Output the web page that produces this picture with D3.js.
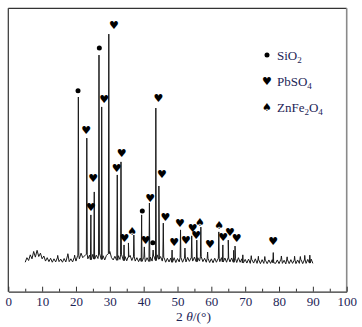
<!DOCTYPE html>
<html>
<head>
<meta charset="utf-8">
<script src="https://cdn.jsdelivr.net/npm/d3@7"></script>
<style>
  body { margin: 0; background: #fff; }
  svg { display: block; }
</style>
</head>
<body>
<div id="container"></div>
<script>
// background of the scan, 5..90 deg every 0.5 deg
const bgStart = 5;
const bgStep = 0.5;
const bgValues = [
  10.4, 12.0, 11.0, 13.0, 11.6, 14.2, 12.2, 14.6, 12.4, 13.6, 11.6,
  12.6, 10.8, 12.0, 10.6, 11.8, 10.4, 11.6, 10.5, 11.9, 10.6,
  11.5, 10.4, 11.7, 10.5, 12.6, 10.6, 11.6, 10.5, 12.0, 10.8,
  12.8, 11.6, 13.6, 12.0, 12.6, 13.2, 11.6, 12.9, 11.3, 13.2,
  11.5, 12.9, 11.7, 13.3, 11.4, 12.7, 11.2, 12.8, 13.4, 14.2,
  12.0, 11.2, 12.5, 11.1, 12.7, 11.4, 13.0, 11.0, 12.4, 10.9,
  12.2, 12.8, 11.0, 12.3, 10.8, 12.0, 10.6, 11.9, 10.7, 12.1,
  10.6, 12.0, 10.7, 12.2, 10.8, 12.6, 11.0, 13.0, 11.5, 12.4,
  10.8, 12.1, 10.4, 11.8, 10.5, 11.9, 10.4, 12.0, 10.3, 11.7,
  10.5, 12.0, 10.4, 11.8, 10.5, 12.1, 10.7, 11.9, 10.8, 12.2,
  10.6, 12.0, 10.8, 12.3, 10.6, 11.8, 10.4, 11.7, 10.3, 11.6,
  10.2, 11.8, 10.4, 11.7, 10.6, 12.0, 10.5, 11.9, 10.4, 11.8,
  10.5, 11.9, 10.4, 11.7, 10.3, 12.0, 10.4, 11.6, 10.2, 11.4,
  10.1, 11.5, 10.0, 11.3, 10.1, 11.6, 10.0, 11.2, 9.9, 11.3,
  10.0, 11.1, 9.9, 11.2, 10.0, 11.3, 10.2, 10.0, 11.2, 9.9,
  11.3, 10.0, 11.1, 9.8, 11.2, 9.9, 11.3, 10.0, 11.1, 9.9,
  11.2, 10.0, 11.3, 9.9, 11.2, 10.0, 11.4, 10.1, 11.5, 10.0
];

// diffraction peaks: 2theta and intensity
const peakAngles = [
  20.7, 23.2, 24.4, 25.4, 26.8, 27.6, 29.7, 32.2, 33.3, 34.2,
  35.5, 37.1, 39.4, 40.2, 41.7, 42.8, 43.6, 44.5, 45.8, 48.4,
  50.9, 52.2, 54.2, 55.7, 56.9, 58.9, 62.2, 63.4, 65.0, 67.0,
  78.3,
  14.6, 17.6, 19.6, 66.6, 69.3, 71.8, 73.9, 75.8, 80.7, 82.4,
  84.6, 86.3, 87.6, 89.1
];
const peakHeights = [
  68.7, 54.2, 27.1, 35.2, 83.5, 65.2, 90.9, 41.2, 45.8, 16.5,
  17.2, 20.0, 27.1, 15.8, 31.3, 14.7, 64.8, 37.3, 24.2, 14.7,
  21.8, 15.4, 19.7, 18.2, 22.8, 14.0, 21.1, 16.5, 18.2, 16.1,
  13.8,
  12.8, 13.4, 12.9, 14.6, 13.0, 12.7, 12.5, 12.4, 12.6, 12.3,
  12.5, 12.4, 12.8, 12.9
];

// phase markers [2theta, height]
const sio2Marks = [[20.6, 70.9], [26.9, 86.0], [39.6, 28.5], [42.7, 17.3]];
const pbso4Marks = [
  [23.0, 57.0], [24.4, 29.6], [25.1, 39.8], [28.3, 67.9], [31.2, 93.8],
  [32.0, 43.6], [33.5, 48.6], [34.3, 18.6], [40.6, 18.0], [41.9, 33.0],
  [44.4, 68.3], [45.4, 41.5], [46.4, 26.2], [49.0, 17.4], [50.7, 24.2],
  [52.5, 17.9], [54.5, 22.3], [55.5, 19.7], [59.6, 16.8], [63.5, 19.2],
  [65.5, 21.0], [67.5, 18.8], [78.3, 17.6]
];
const znfe2o4Marks = [[36.6, 21.2], [56.6, 24.4], [62.3, 23.4]];

const xTicks = [0, 10, 20, 30, 40, 50, 60, 70, 80, 90, 100];
const xMinorTicks = [5, 15, 25, 35, 45, 55, 65, 75, 85, 95];

const w = 362;
const h = 327;
const plotLeft = 8.3, plotRight = 346.7, plotTop = 8.3, plotBottom = 291.7;
const textColor = '#1d2456';

const svg = d3.select('#container').append('svg')
  .attr('width', w)
  .attr('height', h);

const x = d3.scaleLinear().domain([0, 100]).range([plotLeft, plotRight]);
const y = d3.scaleLinear().domain([0, 100]).range([plotBottom, plotTop]);

// build the pattern: background points plus narrow spikes
const bgAt = t => {
  const i = Math.max(0, Math.min(bgValues.length - 1, Math.round((t - bgStart) / bgStep)));
  return bgValues[i];
};
const pattern = bgValues.map((v, i) => [bgStart + i * bgStep, v]);
peakAngles.forEach((t, i) => {
  pattern.push([t - 0.13, bgAt(t)]);
  pattern.push([t, peakHeights[i]]);
  pattern.push([t + 0.13, bgAt(t)]);
});
pattern.sort((a, b) => a[0] - b[0]);

const line = d3.line()
  .x(d => x(d[0]))
  .y(d => y(d[1]));

svg.append('path')
  .datum(pattern)
  .attr('d', line)
  .attr('fill', 'none')
  .attr('stroke', '#1a1a1a')
  .attr('stroke-width', 1)
  .attr('stroke-linejoin', 'round');

// frame
svg.append('line').attr('x1', plotLeft).attr('x2', plotRight).attr('y1', plotTop).attr('y2', plotTop)
  .attr('stroke', '#333').attr('stroke-width', 1.2);
svg.append('line').attr('x1', plotRight).attr('x2', plotRight).attr('y1', plotTop).attr('y2', plotBottom)
  .attr('stroke', '#8a8a8a').attr('stroke-width', 1.6);
svg.append('line').attr('x1', plotLeft).attr('x2', plotLeft).attr('y1', plotTop).attr('y2', plotBottom)
  .attr('stroke', '#333').attr('stroke-width', 1.2);

// x axis, ticks pointing inward
const xAxis = d3.axisBottom(x)
  .tickValues(xTicks)
  .tickSizeInner(-5)
  .tickSizeOuter(0)
  .tickPadding(5)
  .tickFormat(d3.format('d'));

const gx = svg.append('g')
  .attr('transform', `translate(0,${plotBottom})`)
  .call(xAxis);
gx.select('.domain').attr('stroke', '#333').attr('stroke-width', 1.2);
gx.selectAll('.tick line').attr('stroke', '#333').attr('stroke-width', 1);
gx.selectAll('.tick text')
  .attr('fill', textColor)
  .style('font-family', '"Liberation Serif", serif')
  .style('font-size', '13px');

const gxMinor = svg.append('g')
  .attr('transform', `translate(0,${plotBottom})`)
  .call(d3.axisBottom(x).tickValues(xMinorTicks).tickSizeInner(-3).tickSizeOuter(0).tickFormat(''));
gxMinor.select('.domain').remove();
gxMinor.selectAll('.tick line').attr('stroke', '#333').attr('stroke-width', 1);

// axis title
const title = svg.append('text')
  .attr('x', 176)
  .attr('y', 321)
  .attr('fill', textColor)
  .style('font-family', '"Liberation Serif", serif')
  .style('font-size', '13.5px');
title.append('tspan').text('2 ');
title.append('tspan').style('font-style', 'italic').text('θ');
title.append('tspan').text('/(°)');

// markers
const marks = svg.append('g');
marks.selectAll('circle.si')
  .data(sio2Marks)
  .join('circle')
  .attr('class', 'si')
  .attr('cx', d => x(d[0]))
  .attr('cy', d => y(d[1]))
  .attr('r', 2.5)
  .attr('fill', '#000');

const glyph = (data, ch, cls) => marks.selectAll('text.' + cls)
  .data(data)
  .join('text')
  .attr('class', cls)
  .attr('x', d => x(d[0]))
  .attr('y', d => y(d[1]))
  .attr('text-anchor', 'middle')
  .attr('dominant-baseline', 'central')
  .style('font-family', '"DejaVu Sans", sans-serif')
  .style('font-size', '11px')
  .attr('fill', '#000')
  .text(ch);
glyph(pbso4Marks, '♥', 'pb');
glyph(znfe2o4Marks, '♠', 'zn');

// legend
const legendItems = [
  { sym: '●', parts: [['SiO', 0], ['2', 1]], y: 55 },
  { sym: '♥', parts: [['PbSO', 0], ['4', 1]], y: 81 },
  { sym: '♠', parts: [['ZnFe', 0], ['2', 1], ['O', 0], ['4', 1]], y: 107 }
];
const legend = svg.append('g');
legendItems.forEach(item => {
  if (item.sym === '●') {
    legend.append('circle').attr('cx', 267).attr('cy', item.y).attr('r', 2.5).attr('fill', '#000');
  } else {
    legend.append('text')
      .attr('x', 267).attr('y', item.y)
      .attr('text-anchor', 'middle')
      .attr('dominant-baseline', 'central')
      .style('font-family', '"DejaVu Sans", sans-serif')
      .style('font-size', '11px')
      .text(item.sym);
  }
  const t = legend.append('text')
    .attr('x', 277).attr('y', item.y + 4.5)
    .attr('fill', textColor)
    .style('font-family', '"Liberation Serif", serif')
    .style('font-size', '13px');
  let prevSub = 0;
  item.parts.forEach(([s, sub]) => {
    t.append('tspan')
      .attr('dy', (sub ? 3 : 0) - (prevSub ? 3 : 0))
      .style('font-size', sub ? '9px' : '13px')
      .text(s);
    prevSub = sub;
  });
});
</script>
</body>
</html>
